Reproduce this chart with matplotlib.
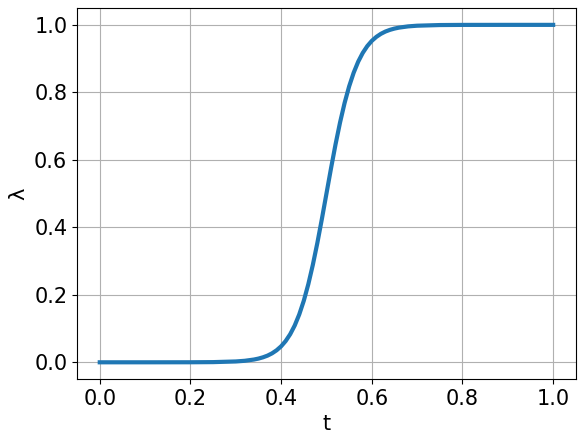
import matplotlib
import matplotlib.pyplot as plt

matplotlib.use("Agg")

# values
t_vals = [0.0, 0.1, 0.2, 0.25, 0.3, 0.32, 0.34, 0.35, 0.36, 0.37, 0.38, 0.39,
          0.40, 0.41, 0.42, 0.43, 0.44, 0.45, 0.46, 0.47, 0.48, 0.49, 0.50,
          0.51, 0.52, 0.53, 0.54, 0.55, 0.56, 0.57, 0.58, 0.59, 0.60, 0.61,
          0.62, 0.63, 0.64, 0.65, 0.66, 0.68, 0.70, 0.75, 0.80, 0.90, 1.0]
lam_vals = [0.0, 0.00001, 0.00012, 0.00055, 0.0025, 0.0045, 0.0082, 0.0110,
            0.0148, 0.0198, 0.0266, 0.0356, 0.0474, 0.0630, 0.0832, 0.1091,
            0.1419, 0.1824, 0.2315, 0.2891, 0.3543, 0.4256, 0.5, 0.5744,
            0.6457, 0.7109, 0.7685, 0.8176, 0.8581, 0.8909, 0.9168, 0.9370,
            0.9526, 0.9644, 0.9734, 0.9802, 0.9852, 0.9890, 0.9918, 0.9955,
            0.9975, 0.99945, 0.99988, 1.0, 1.0]

fig, ax = plt.subplots(figsize=(5.84, 4.44), dpi=100)
fig.subplots_adjust(left=0.132, right=0.986, top=0.982, bottom=0.146)

ax.plot(t_vals, lam_vals, color="#1f77b4", linewidth=3)
ax.grid(True)
ax.set_xlabel("t", fontsize=15)
ax.set_ylabel("λ", fontsize=15)
ax.tick_params(labelsize=15)

fig.savefig("out.png", dpi=100)
